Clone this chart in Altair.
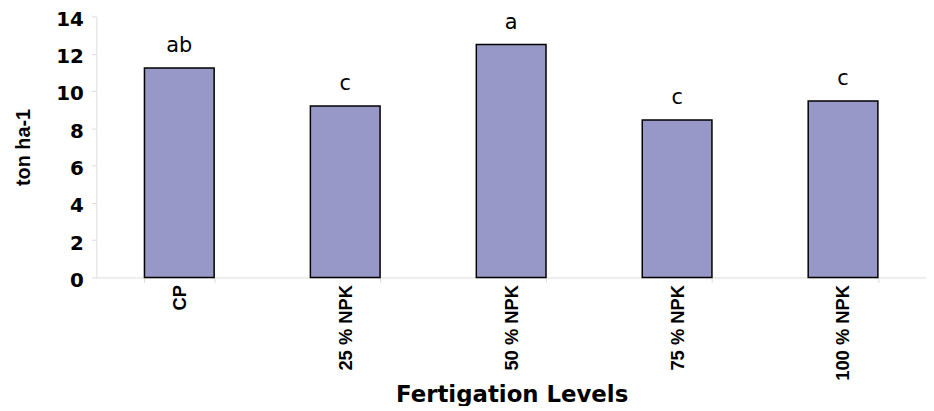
import altair as alt
import pandas as pd

categories = ["CP", "25 % NPK", "50 % NPK", "75 % NPK", "100 % NPK"]
values = [11.23, 9.2, 12.5, 8.45, 9.47]
letters = ["ab", "c", "a", "c", "c"]
x_title = ["Fertigation Levels"]

df = pd.DataFrame({"cat": categories, "val": values, "lab": letters})
tdf = pd.DataFrame({"t": x_title})

FONT = "Liberation Sans"
WIDE = "DejaVu Sans"

x = alt.X("cat:N", sort=categories, title=None,
          scale=alt.Scale(paddingInner=0.58, paddingOuter=0.29),
          axis=alt.Axis(labelAngle=-90, labelFont=FONT, labelFontSize=18.5,
                        labelFontWeight="bold", labelColor="black", labelPadding=2,
                        labelAlign="right", labelBaseline="middle",
                        labelOverlap=False, labelFlush=False,
                        domainColor="#dddddd", tickColor="#dddddd", tickSize=5,
                        tickBand="extent", grid=False))
y = alt.Y("val:Q", title="ton ha-1",
          scale=alt.Scale(domain=[0, 14], nice=False),
          axis=alt.Axis(values=[0, 2, 4, 6, 8, 10, 12, 14], labelFont=WIDE,
                        labelFontSize=20, labelFontWeight="bold", labelColor="black",
                        labelPadding=8, labelOffset=3, labelOverlap=False, labelFlush=False,
                        titleFont=FONT, titleFontSize=20,
                        titleFontWeight="bold", titleColor="black", titlePadding=22,
                        domainColor="#dddddd", tickColor="#dddddd", tickSize=5,
                        grid=False))

bars = alt.Chart(df).mark_bar(color="#9797c8", stroke="black", strokeWidth=1.5).encode(x=x, y=y)
text = alt.Chart(df).mark_text(font=WIDE, fontSize=21, color="black", dy=-22).encode(
    x=x, y=y, text="lab:N")
xtitle = alt.Chart(tdf).mark_text(font=WIDE, fontSize=23, fontWeight="bold",
                                  color="black", align="center", baseline="middle").encode(
    x=alt.value(419), y=alt.value(381), text="t:N")

chart = (bars + text + xtitle).properties(
    width=836, height=263,
    autosize=alt.AutoSizeParams(type="none"),
    padding={"left": 89, "top": 7, "right": 0, "bottom": 128},
).configure_view(stroke=None)

chart.save("out.html", embed_options={"renderer": "svg", "actions": False})
